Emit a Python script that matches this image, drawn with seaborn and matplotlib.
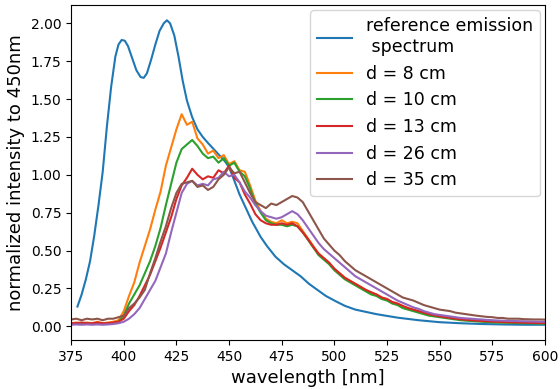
import numpy as np
import seaborn as sns
import matplotlib
matplotlib.use("Agg")
import matplotlib.pyplot as plt

# reference emission spectrum (smooth)
ref_wl = [378, 380, 382, 384, 386, 388, 390, 392, 394, 396, 397.5, 399, 400.5, 402, 404, 406,
          408, 409.5, 411, 413, 415, 417, 419, 420.5, 422, 424, 426, 428, 430, 432.5, 435, 437.5,
          440, 444, 448, 450, 452, 455, 458, 461, 465, 468, 472, 476, 480, 484, 488, 492,
          496, 500, 505, 510, 515, 520, 530, 540, 550, 560, 570, 580, 590, 600]
ref_int = [0.13, 0.21, 0.31, 0.43, 0.60, 0.80, 1.02, 1.32, 1.58, 1.78, 1.86, 1.89, 1.885, 1.85, 1.77, 1.69,
           1.645, 1.64, 1.67, 1.76, 1.86, 1.95, 2.00, 2.02, 2.00, 1.92, 1.78, 1.62, 1.49, 1.38, 1.30, 1.25,
           1.21, 1.15, 1.09, 1.05, 0.98, 0.87, 0.78, 0.69, 0.59, 0.53, 0.46, 0.41, 0.37, 0.33, 0.28, 0.24,
           0.20, 0.17, 0.135, 0.11, 0.095, 0.08, 0.057, 0.04, 0.027, 0.02, 0.015, 0.012, 0.01, 0.01]

# measured spectra, sampled every 2.5 nm from 375 to 600 nm
wl = np.arange(375, 600.1, 2.5)

d8 = [0.02, 0.025, 0.02, 0.025, 0.02, 0.03, 0.02, 0.025, 0.03, 0.04,
      0.10, 0.20, 0.29, 0.42, 0.53, 0.64, 0.77, 0.89, 1.06, 1.18,
      1.30, 1.40, 1.33, 1.35, 1.24, 1.20, 1.14, 1.16, 1.11, 1.13,
      1.07, 1.09, 1.03, 1.02, 0.93, 0.83, 0.76, 0.71, 0.69, 0.68,
      0.70, 0.68, 0.69, 0.68, 0.63, 0.58, 0.53, 0.48, 0.45, 0.42,
      0.38, 0.35, 0.32, 0.30, 0.28, 0.26, 0.24, 0.22, 0.21, 0.19,
      0.18, 0.16, 0.15, 0.13, 0.12, 0.11, 0.10, 0.09, 0.08, 0.07,
      0.065, 0.06, 0.055, 0.05, 0.045, 0.042, 0.04, 0.036, 0.034, 0.032,
      0.03, 0.028, 0.027, 0.026, 0.025, 0.024, 0.023, 0.022, 0.022, 0.021,
      0.02]

d10 = [0.015, 0.02, 0.015, 0.02, 0.015, 0.02, 0.015, 0.02, 0.02, 0.03,
       0.07, 0.15, 0.21, 0.27, 0.35, 0.43, 0.53, 0.65, 0.80, 0.94,
       1.08, 1.17, 1.20, 1.23, 1.19, 1.14, 1.11, 1.12, 1.08, 1.11,
       1.06, 1.08, 1.02, 0.99, 0.91, 0.81, 0.75, 0.70, 0.68, 0.67,
       0.67, 0.66, 0.67, 0.66, 0.62, 0.57, 0.52, 0.47, 0.44, 0.41,
       0.37, 0.34, 0.31, 0.29, 0.27, 0.25, 0.23, 0.21, 0.20, 0.18,
       0.17, 0.15, 0.14, 0.12, 0.11, 0.10, 0.09, 0.08, 0.07, 0.065,
       0.06, 0.055, 0.05, 0.045, 0.04, 0.037, 0.035, 0.032, 0.03, 0.028,
       0.026, 0.025, 0.024, 0.023, 0.022, 0.021, 0.02, 0.02, 0.019, 0.018,
       0.018]

d13 = [0.02, 0.02, 0.025, 0.02, 0.02, 0.025, 0.02, 0.02, 0.025, 0.03,
       0.05, 0.10, 0.14, 0.20, 0.27, 0.34, 0.43, 0.52, 0.62, 0.72,
       0.84, 0.93, 0.98, 1.04, 1.00, 0.97, 0.99, 0.98, 1.03, 1.01,
       1.06, 0.98, 0.95, 0.87, 0.81, 0.74, 0.70, 0.68, 0.67, 0.67,
       0.68, 0.67, 0.68, 0.66, 0.62, 0.575, 0.525, 0.48, 0.45, 0.42,
       0.38, 0.35, 0.32, 0.30, 0.28, 0.26, 0.24, 0.225, 0.21, 0.19,
       0.18, 0.16, 0.15, 0.135, 0.12, 0.11, 0.10, 0.09, 0.08, 0.072,
       0.066, 0.06, 0.055, 0.05, 0.046, 0.043, 0.04, 0.037, 0.035, 0.033,
       0.031, 0.03, 0.028, 0.027, 0.026, 0.025, 0.024, 0.023, 0.022, 0.022,
       0.021]

d26 = [0.01, 0.012, 0.01, 0.012, 0.01, 0.012, 0.01, 0.012, 0.015, 0.02,
       0.03, 0.05, 0.08, 0.12, 0.18, 0.24, 0.30, 0.39, 0.48, 0.62,
       0.75, 0.88, 0.94, 0.96, 0.93, 0.94, 0.93, 0.97, 0.98, 1.02,
       0.99, 1.00, 0.95, 0.89, 0.85, 0.80, 0.76, 0.73, 0.72, 0.71,
       0.72, 0.74, 0.76, 0.74, 0.70, 0.65, 0.60, 0.55, 0.51, 0.48,
       0.45, 0.42, 0.39, 0.36, 0.33, 0.31, 0.29, 0.27, 0.25, 0.23,
       0.21, 0.19, 0.17, 0.155, 0.14, 0.125, 0.115, 0.10, 0.09, 0.08,
       0.075, 0.07, 0.065, 0.06, 0.055, 0.052, 0.05, 0.047, 0.045, 0.042,
       0.04, 0.038, 0.037, 0.036, 0.035, 0.034, 0.033, 0.032, 0.031, 0.03,
       0.03]

d35 = [0.045, 0.05, 0.04, 0.05, 0.045, 0.05, 0.04, 0.05, 0.05, 0.06,
       0.07, 0.12, 0.15, 0.19, 0.24, 0.35, 0.45, 0.56, 0.66, 0.78,
       0.88, 0.94, 0.95, 0.96, 0.92, 0.93, 0.90, 0.92, 0.97, 1.00,
       1.05, 1.01, 1.02, 0.95, 0.88, 0.82, 0.80, 0.78, 0.81, 0.80,
       0.82, 0.84, 0.86, 0.85, 0.82, 0.76, 0.70, 0.64, 0.58, 0.54,
       0.50, 0.47, 0.43, 0.40, 0.37, 0.35, 0.33, 0.31, 0.29, 0.27,
       0.25, 0.23, 0.21, 0.19, 0.18, 0.17, 0.155, 0.14, 0.13, 0.12,
       0.11, 0.105, 0.10, 0.09, 0.085, 0.08, 0.075, 0.07, 0.066, 0.062,
       0.06, 0.055, 0.055, 0.05, 0.05, 0.05, 0.047, 0.046, 0.045, 0.045,
       0.044]

labels = ["d = 8 cm", "d = 10 cm", "d = 13 cm", "d = 26 cm", "d = 35 cm"]
series = [d8, d10, d13, d26, d35]
colors = ["#ff7f0e", "#2ca02c", "#d62728", "#9467bd", "#8c564b"]

fig, ax = plt.subplots(figsize=(5.6, 3.89), dpi=100)
fig.subplots_adjust(left=0.127, right=0.973, bottom=0.126, top=0.987)

sns.lineplot(x=ref_wl, y=ref_int, color="#1f77b4", linewidth=1.5,
             label="reference emission\n spectrum", ax=ax)
for vals, lab, col in zip(series, labels, colors):
    sns.lineplot(x=wl, y=vals, color=col, linewidth=1.5, label=lab, ax=ax)

ax.set_xlim(375, 600)
ax.set_xticks(np.arange(375, 601, 25))
ax.set_xlabel("wavelength [nm]", fontsize=13)
ax.set_ylabel("normalized intensity to 450nm", fontsize=13)
ax.legend(loc="upper right", fontsize=12.5, borderaxespad=0.3)

plt.savefig("out.png", dpi=100)
